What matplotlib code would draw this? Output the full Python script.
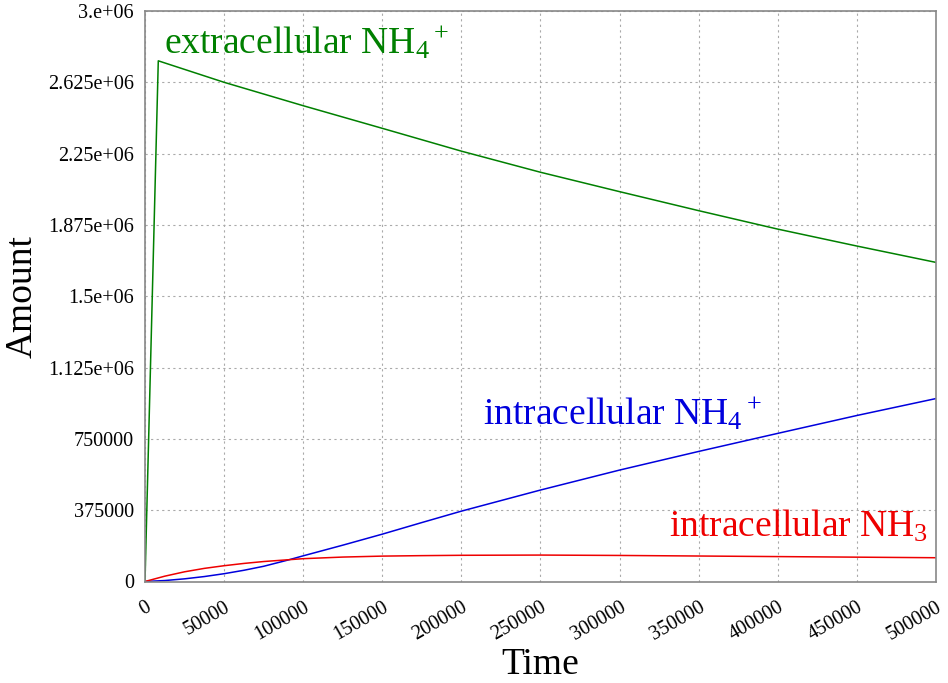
import matplotlib
matplotlib.use("Agg")
import matplotlib.pyplot as plt
import numpy as np

plt.rcParams['font.family'] = ['Liberation Serif', 'DejaVu Serif']
plt.rcParams['mathtext.fontset'] = 'custom'
plt.rcParams['mathtext.rm'] = 'Liberation Serif'
plt.rcParams['mathtext.it'] = 'Liberation Serif:italic'

# data
t_ext = [0, 8400, 50000, 100000, 150000, 200000, 250000, 300000, 350000, 400000, 450000, 500000]
ext_nh4 = [0, 2.738e6, 2.625e6, 2.502e6, 2.383e6, 2.263e6, 2.152e6, 2.050e6, 1.950e6, 1.853e6, 1.764e6, 1.678e6]

t_int = [0, 12500, 25000, 37500, 50000, 62500, 75000, 90000, 100000, 125000, 150000, 175000, 200000,
         250000, 300000, 350000, 400000, 450000, 500000]
int_nh4 = [0, 5000, 14000, 26000, 41000, 59000, 80000, 112000, 135000, 191000, 249000, 310000, 370000,
           481000, 586000, 684000, 779000, 873000, 962000]
int_nh3 = [0, 28000, 51000, 69000, 83000, 95000, 105000, 114000, 120000, 128500, 133500, 136000, 137800,
           139000, 137000, 134000, 131000, 128000, 125000]

yticks = [0, 375000, 750000, 1125000, 1500000, 1875000, 2250000, 2625000, 3000000]
ytick_labels = ["0", "375000", "750000", "1.125e+06", "1.5e+06", "1.875e+06", "2.25e+06", "2.625e+06", "3.e+06"]
xticks = [0, 50000, 100000, 150000, 200000, 250000, 300000, 350000, 400000, 450000, 500000]
xtick_labels = [str(v) for v in xticks]

fig = plt.figure(figsize=(9.48, 6.83), dpi=100)
ax = fig.add_axes([145/948, 1-581.5/683, (936-145)/948, (581.5-11)/683])

ax.plot(t_ext, ext_nh4, color='#008000', lw=1.1)
ax.plot(t_int, int_nh4, color='#0000dd', lw=1.1)
ax.plot(t_int, int_nh3, color='#ee0000', lw=1.1)

ax.set_xlim(0, 500000)
ax.set_ylim(0, 3e6)
ax.set_yticks(yticks)
ax.set_yticklabels(ytick_labels, fontsize=14.5)
ax.set_xticks(xticks)
ax.set_xticklabels(xtick_labels, fontsize=14.5, rotation=30, ha='right', rotation_mode='anchor')
ax.tick_params(axis='y', length=0, pad=8)
ax.tick_params(axis='x', length=0, pad=12)
ax.grid(True, linestyle=(0, (2, 3)), color='#aaaaaa', lw=0.8)
for s in ax.spines.values():
    s.set_color('#888888')
    s.set_linewidth(1.2)

ax.set_ylabel("Amount", fontsize=27, labelpad=6)
ax.set_xlabel("Time", fontsize=27, labelpad=2)

ax.text(0.024, 0.925, r"extracellular NH$_4{}^+$", transform=ax.transAxes, color='#008000', fontsize=27, va='baseline')
ax.text(0.427, 0.275, r"intracellular NH$_4{}^+$", transform=ax.transAxes, color='#0000dd', fontsize=27, va='baseline')
ax.text(0.99, 0.078, r"intracellular NH$_3$", transform=ax.transAxes, color='#ee0000', fontsize=27, va='baseline', ha='right')

fig.savefig("out.png", dpi=100)
